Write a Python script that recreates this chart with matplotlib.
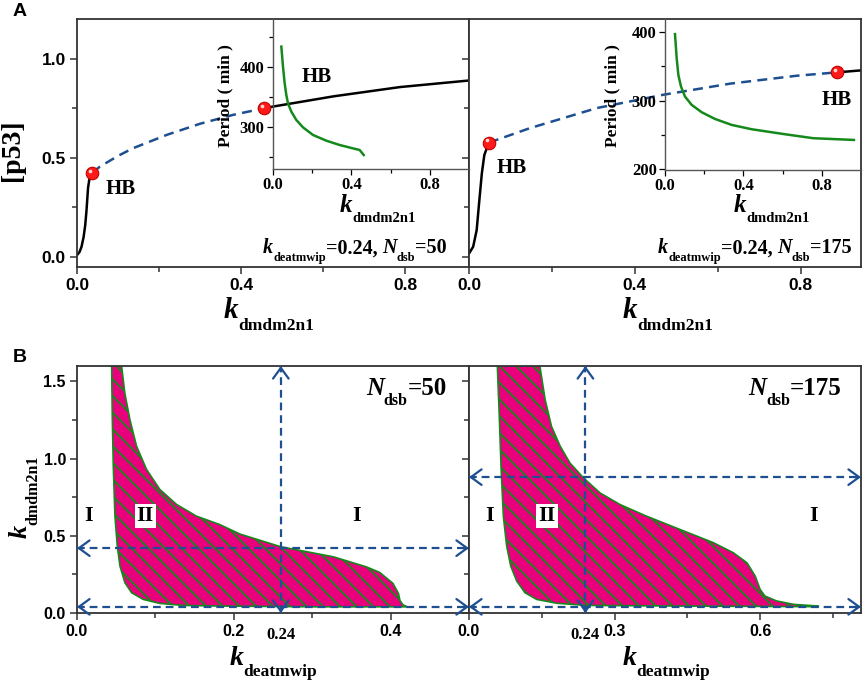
import matplotlib.pyplot as plt
import numpy as np
from matplotlib.transforms import ScaledTranslation
from matplotlib.ticker import FixedLocator

# ---- data ----
# panel A, left (N_dsb = 50): p53 steady state vs k_dmdm2n1
a1_low_x = [0.0, 0.006, 0.011, 0.016, 0.020, 0.023, 0.025, 0.027, 0.030, 0.037]
a1_low_y = [0.01, 0.025, 0.052, 0.10, 0.16, 0.23, 0.29, 0.35, 0.39, 0.425]
a1_uns_x = [0.037, 0.056, 0.10, 0.137, 0.219, 0.30, 0.381, 0.456]
a1_uns_y = [0.425, 0.456, 0.51, 0.549, 0.616, 0.672, 0.717, 0.75]
a1_up_x = [0.456, 0.479, 0.625, 0.722, 0.788, 0.956]
a1_up_y = [0.75, 0.759, 0.81, 0.838, 0.857, 0.89]
a1_hb_x = [0.037, 0.456]
a1_hb_y = [0.425, 0.75]
a1_per_x = [0.0425, 0.051, 0.0595, 0.068, 0.0765, 0.0935, 0.119, 0.153, 0.204,
            0.272, 0.34, 0.408, 0.442, 0.463]
a1_per_y = [434, 400.5, 372.8, 353.3, 339.4, 325.6, 311.7, 299.4, 286.7,
            277.2, 270, 264.4, 261.7, 253.3]

# panel A, right (N_dsb = 175)
a2_low_x = [0.0, 0.010, 0.0185, 0.025, 0.031, 0.037, 0.048]
a2_low_y = [0.018, 0.052, 0.136, 0.288, 0.423, 0.515, 0.577]
a2_uns_x = [0.048, 0.147, 0.308, 0.468, 0.629, 0.79, 0.887]
a2_uns_y = [0.577, 0.65, 0.751, 0.818, 0.874, 0.914, 0.931]
a2_up_x = [0.887, 0.945]
a2_up_y = [0.931, 0.941]
a2_hb_x = [0.048, 0.887]
a2_hb_y = [0.577, 0.931]
a2_per_x = [0.051, 0.0595, 0.068, 0.0816, 0.102, 0.136, 0.187, 0.255, 0.34,
            0.442, 0.544, 0.612, 0.757, 0.964]
a2_per_y = [397, 362, 337.7, 320.6, 306, 293.9, 283.2, 273.4, 264.7,
            258.4, 254, 251.1, 245.3, 242.8]

# panel B, left (N_dsb = 50): oscillation region boundaries
b1_up_x = [0.0569, 0.061, 0.0675, 0.076, 0.0888, 0.1057, 0.127, 0.1525, 0.182,
           0.208, 0.26, 0.327, 0.369, 0.386, 0.403, 0.410, 0.412, 0.416, 0.421]
b1_up_y = [1.6, 1.424, 1.252, 1.08, 0.929, 0.80, 0.703, 0.627, 0.573,
           0.511, 0.429, 0.364, 0.299, 0.263, 0.192, 0.127, 0.08, 0.052, 0.041]
b1_lo_x = [0.0442, 0.045, 0.0463, 0.0484, 0.0514, 0.0548, 0.0611, 0.0697, 0.0845,
           0.1057, 0.1354, 0.182, 0.305, 0.421]
b1_lo_y = [1.6, 1.273, 0.950, 0.627, 0.433, 0.304, 0.196, 0.131, 0.088,
           0.062, 0.049, 0.045, 0.040, 0.040]
b1_hlines = [0.42, 0.04]
b1_vline = 0.26

# panel B, right (N_dsb = 175)
b2_up_x = [0.146, 0.157, 0.170, 0.188, 0.208, 0.236, 0.270, 0.311, 0.366, 0.435,
           0.504, 0.545, 0.573, 0.590, 0.600, 0.610, 0.634, 0.669, 0.720]
b2_up_y = [1.6, 1.381, 1.209, 1.08, 0.972, 0.875, 0.778, 0.703, 0.627, 0.541,
           0.455, 0.39, 0.325, 0.239, 0.153, 0.11, 0.078, 0.056, 0.045]
b2_lo_x = [0.0584, 0.0625, 0.066, 0.0708, 0.0777, 0.086, 0.0983, 0.1155, 0.1395,
           0.181, 0.243, 0.435, 0.720]
b2_lo_y = [1.6, 1.273, 0.950, 0.627, 0.433, 0.304, 0.207, 0.131, 0.088,
           0.063, 0.049, 0.045, 0.041]
b2_hlines = [0.88, 0.04]
b2_vline = 0.24

BLUE = '#1d4f91'
GREEN = '#15891c'
PINK = '#e8007c'
RED = '#ff1a1a'
SPINE = '#333333'

plt.rcParams['font.family'] = ['Liberation Serif', 'DejaVu Serif']
plt.rcParams['font.weight'] = 'bold'
plt.rcParams['hatch.linewidth'] = 1.3

W, H = 865, 680
fig = plt.figure(figsize=(W / 100, H / 100), dpi=100)


def px_axes(x0, y0, x1, y1):
    return fig.add_axes([x0 / W, 1 - y1 / H, (x1 - x0) / W, (y1 - y0) / H])


def rich(x, y, parts, transform, ha='left', rot=0):
    # text made of pieces: (text, size, style, is_subscript[, pad_pt])
    r = fig.canvas.get_renderer()
    made = []
    for p in parts:
        s, size, style, sub = p[:4]
        pad = p[4] * fig.dpi / 72 if len(p) > 4 else 0
        t = fig.text(x, y, s, transform=transform, fontsize=size, fontstyle=style,
                     fontweight='bold', va='baseline', ha='left', rotation=rot,
                     rotation_mode='anchor')
        bb = t.get_window_extent(r)
        made.append((t, (bb.height if rot else bb.width), sub, pad))
    total = sum(w + pad for _, w, _, pad in made)
    pos = {'left': 0, 'center': -total / 2, 'right': -total}[ha]
    drop = 0.4 * parts[0][1] * fig.dpi / 72
    for t, w, sub, pad in made:
        pos += pad
        d = drop if sub else 0
        ox, oy = (d, pos) if rot else (pos, -d)
        t.set_transform(transform + ScaledTranslation(ox / fig.dpi, oy / fig.dpi,
                                                      fig.dpi_scale_trans))
        pos += w


def style_main(ax, size, ylabels=True):
    for s in ax.spines.values():
        s.set_color(SPINE)
        s.set_linewidth(1.3)
    ax.tick_params(which='both', direction='out', top=False, right=False,
                   width=1.1, color=SPINE, labelsize=size, pad=3)
    ax.tick_params(which='major', length=5)
    ax.tick_params(which='minor', length=3.5)
    if not ylabels:
        ax.tick_params(axis='y', labelleft=False)
    for lab in ax.get_xticklabels() + ax.get_yticklabels():
        lab.set_family(['Liberation Sans', 'DejaVu Sans'])
        lab.set_fontweight('bold')


def style_inset(ax):
    ax.set_facecolor('none')
    ax.spines['top'].set_visible(False)
    ax.spines['right'].set_visible(False)
    for s in ('left', 'bottom'):
        ax.spines[s].set_color('#555555')
        ax.spines[s].set_linewidth(1.0)
    ax.tick_params(which='both', direction='out', labelsize=12, width=0.9, pad=2)
    ax.tick_params(which='major', length=4)
    ax.tick_params(which='minor', length=3)


def darrow(ax, a, b):
    ax.plot([a[0], b[0]], [a[1], b[1]], color=BLUE, lw=1.6, dashes=(3.5, 2.2),
            clip_on=False, zorder=4)
    for p, q in ((a, b), (b, a)):
        near = (p[0] + 0.015 * (q[0] - p[0]), p[1] + 0.015 * (q[1] - p[1]))
        ax.annotate('', xy=p, xytext=near,
                    arrowprops=dict(arrowstyle='->,head_length=0.55,head_width=0.4',
                                    color=BLUE, lw=1.6, shrinkA=0, shrinkB=0,
                                    mutation_scale=14), zorder=5)


# ---------------- panel A ----------------
axA1 = px_axes(77, 19, 469, 267)
axA2 = px_axes(469, 19, 861, 267)
insA1 = px_axes(273, 19, 469, 169)
insA2 = px_axes(665, 19, 861, 170)

for ax, low, uns, up, hb, xmax in (
        (axA1, (a1_low_x, a1_low_y), (a1_uns_x, a1_uns_y), (a1_up_x, a1_up_y),
         (a1_hb_x, a1_hb_y), 0.956),
        (axA2, (a2_low_x, a2_low_y), (a2_uns_x, a2_uns_y), (a2_up_x, a2_up_y),
         (a2_hb_x, a2_hb_y), 0.945)):
    ax.plot(*low, color='black', lw=1.8)
    ax.plot(*up, color='black', lw=1.8)
    ax.plot(*uns, color=BLUE, lw=1.8, dashes=(4, 2.5))
    ax.plot(*hb, 'o', ms=9, mfc=RED, mec='#c00000', mew=0.8, zorder=6)
    # small shine on the red balls
    shine = ax.transData + ScaledTranslation(-1.6 / 72, 1.6 / 72, fig.dpi_scale_trans)
    ax.plot(*hb, 'o', ms=2.6, color='#ffd6d6', mew=0, transform=shine, zorder=7)
    ax.set_xlim(0, xmax)
    ax.set_ylim(-0.05, 1.2)
    ax.xaxis.set_major_locator(FixedLocator([0.0, 0.4, 0.8]))
    ax.xaxis.set_minor_locator(FixedLocator([0.2, 0.6]))
    ax.yaxis.set_major_locator(FixedLocator([0.0, 0.5, 1.0]))
    ax.yaxis.set_minor_locator(FixedLocator([0.25, 0.75]))
    ax.set_xticklabels(['0.0', '0.4', '0.8'])
    ax.set_yticklabels(['0.0', '0.5', '1.0'])
    style_main(ax, 12.5, ylabels=(ax is axA1))

axA1.text(0.071, 0.318, 'HB', fontsize=15, va='baseline')
axA2.text(0.067, 0.426, 'HB', fontsize=15, va='baseline')
axA2.text(0.85, 0.768, 'HB', fontsize=15, va='baseline')

for ins, px, py, ylim, yt, ymin in (
        (insA1, a1_per_x, a1_per_y, (230, 480), [300, 400], [250, 350, 450]),
        (insA2, a2_per_x, a2_per_y, (199, 419), [200, 300, 400], [250, 350])):
    ins.plot(px, py, color=GREEN, lw=1.8)
    ins.set_xlim(0, 1.0)
    ins.set_ylim(*ylim)
    ins.xaxis.set_major_locator(FixedLocator([0.0, 0.4, 0.8]))
    ins.xaxis.set_minor_locator(FixedLocator([0.2, 0.6]))
    ins.yaxis.set_major_locator(FixedLocator(yt))
    ins.yaxis.set_minor_locator(FixedLocator(ymin))
    ins.set_xticklabels(['0.0', '0.4', '0.8'])
    ins.set_yticklabels([str(v) for v in yt])
    style_inset(ins)

insA1.text(0.148, 375, 'HB', fontsize=15, va='baseline')
insA1.text(-0.245, 0.49, 'Period ( min )', transform=insA1.transAxes, rotation=90,
           fontsize=12.5, ha='center', va='center')
insA2.text(-0.27, 0.49, 'Period ( min )', transform=insA2.transAxes, rotation=90,
           fontsize=12.5, ha='center', va='center')

fig.text(0.0145, 1 - 150 / H, '[p53]', fontsize=20, rotation=90, ha='center', va='center')
fig.text(13 / W, 1 - 3 / H, 'A', fontsize=14, fontweight='bold', va='top', ha='left',
         family=['Liberation Sans', 'DejaVu Sans'])
fig.text(13 / W, 1 - 349 / H, 'B', fontsize=14, fontweight='bold', va='top', ha='left',
         family=['Liberation Sans', 'DejaVu Sans'])

# axis labels with subscripts
rich(0.49, -0.206, [('k', 21, 'italic', False), ('dmdm2n1', 12.5, 'normal', True)],
     axA1.transAxes, ha='center')
rich(0.508, -0.206, [('k', 21, 'italic', False), ('dmdm2n1', 12.5, 'normal', True)],
     axA2.transAxes, ha='center')
rich(0.536, -0.285, [('k', 18, 'italic', False), ('dmdm2n1', 10.5, 'normal', True)],
     insA1.transAxes, ha='center')
rich(0.543, -0.28, [('k', 18, 'italic', False), ('dmdm2n1', 10.5, 'normal', True)],
     insA2.transAxes, ha='center')
for ax, n, xr in ((axA1, '50', 0.944), (axA2, '175', 0.977)):
    rich(xr, 0.055, [('k', 14.5, 'italic', False), ('deatmwip', 9, 'normal', True),
                     ('=0.24,', 14.5, 'normal', False), ('N', 14.5, 'italic', False, 3.5),
                     ('dsb', 9, 'normal', True), ('=' + n, 14.5, 'normal', False)],
         ax.transAxes, ha='right')

# ---------------- panel B ----------------
axB1 = px_axes(77, 366, 469, 613)
axB2 = px_axes(469, 366, 861, 613)

for ax, ux, uy, lx, ly, xmax, hl, vl in (
        (axB1, b1_up_x, b1_up_y, b1_lo_x, b1_lo_y, 0.5, b1_hlines, b1_vline),
        (axB2, b2_up_x, b2_up_y, b2_lo_x, b2_lo_y, 0.808, b2_hlines, b2_vline)):
    poly_x = ux + lx[::-1]
    poly_y = uy + ly[::-1]
    ax.fill(poly_x, poly_y, facecolor=PINK, edgecolor=GREEN, hatch='\\\\', lw=1.2,
            zorder=2)
    ax.set_xlim(0, xmax)
    ax.set_ylim(0, 1.6)
    for yv in hl:
        darrow(ax, (0, yv), (xmax, yv))
    darrow(ax, (vl, 0), (vl, 1.6))
    ax.yaxis.set_major_locator(FixedLocator([0.0, 0.5, 1.0, 1.5]))
    ax.yaxis.set_minor_locator(FixedLocator([0.25, 0.75, 1.25]))
    ax.set_yticklabels(['0.0', '0.5', '1.0', '1.5'])
    ax.text(vl, -0.058, '0.24', transform=ax.get_xaxis_transform(), fontsize=12,
            ha='center', va='top')

axB1.xaxis.set_major_locator(FixedLocator([0.0, 0.2, 0.4]))
axB1.xaxis.set_minor_locator(FixedLocator([0.1, 0.3]))
axB1.set_xticklabels(['0.0', '0.2', '0.4'])
axB2.xaxis.set_major_locator(FixedLocator([0.0, 0.3, 0.6]))
axB2.xaxis.set_minor_locator(FixedLocator([0.15, 0.45, 0.75]))
axB2.set_xticklabels(['0.0', '0.3', '0.6'])
style_main(axB1, 11.5)
style_main(axB2, 11.5, ylabels=False)

box = dict(facecolor='white', edgecolor='none', pad=1.5)
for ax, xs in ((axB1, (0.0144, 0.087, 0.357)), (axB2, (0.043, 0.161, 0.711))):
    ax.text(xs[0], 0.597, 'I', fontsize=16, ha='center', va='baseline')
    ax.text(xs[1], 0.597, 'II', fontsize=16, ha='center', va='baseline', bbox=box, zorder=6)
    ax.text(xs[2], 0.597, 'I', fontsize=16, ha='center', va='baseline')

rich(0.944, 0.883, [('N', 18, 'italic', False), ('dsb', 11.5, 'normal', True),
                    ('=50', 18, 'normal', False)], axB1.transAxes, ha='right')
rich(0.951, 0.883, [('N', 18, 'italic', False), ('dsb', 11.5, 'normal', True),
                    ('=175', 18, 'normal', False)], axB2.transAxes, ha='right')
for ax, xc in ((axB1, 0.5), (axB2, 0.503)):
    rich(xc, -0.21, [('k', 20, 'italic', False), ('deatmwip', 12.5, 'normal', True)],
         ax.transAxes, ha='center')
rich(-0.128, 0.47, [('k', 19, 'italic', False), ('dmdm2n1', 11.5, 'normal', True)],
     axB1.transAxes, ha='center', rot=90)

fig.savefig('out.png', dpi=100)
